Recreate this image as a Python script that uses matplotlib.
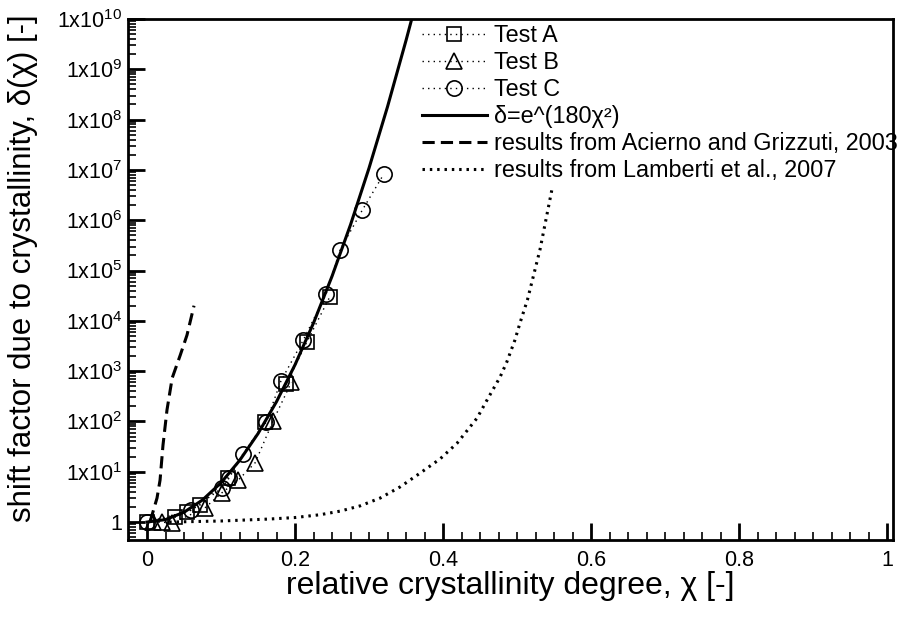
import numpy as np
import matplotlib
matplotlib.use('Agg')
import matplotlib.pyplot as plt
from matplotlib.ticker import FixedLocator, MultipleLocator, LogLocator, NullFormatter

plt.rcParams['font.family'] = ['Liberation Sans', 'DejaVu Sans']
plt.rcParams['mathtext.fontset'] = 'custom'
plt.rcParams['mathtext.rm'] = 'Liberation Sans'
plt.rcParams['mathtext.it'] = 'Liberation Sans'

# Data
test_a_x = [0.0, 0.038, 0.054, 0.072, 0.109, 0.159, 0.188, 0.216, 0.247]
test_a_y = [1.0, 1.25, 1.6, 2.2, 7.5, 97, 550, 3800, 3.0e4]

test_b_x = [0.008, 0.020, 0.034, 0.078, 0.101, 0.123, 0.146, 0.170, 0.195]
test_b_y = [1.0, 1.0, 0.95, 1.9, 3.8, 6.8, 15, 100, 600]

test_c_x = [0.0, 0.059, 0.101, 0.111, 0.130, 0.161, 0.181, 0.211, 0.242, 0.261, 0.291, 0.320]
test_c_y = [1.0, 1.7, 4.7, 7.5, 23, 97, 640, 4100, 3.4e4, 2.6e5, 1.6e6, 8.3e6]

# delta = e^(180 chi^2)
fit_x = [0, 0.025, 0.05, 0.075, 0.1, 0.125, 0.15, 0.175, 0.2, 0.225, 0.25,
         0.275, 0.3, 0.325, 0.35, 0.358]
fit_y = [1.0, 1.12, 1.57, 2.75, 6.05, 16.7, 57.4, 248, 1340, 9070, 7.7e4,
         8.15e5, 1.09e7, 1.81e8, 3.76e9, 1.04e10]

acierno_x = [0.004, 0.0135, 0.0176, 0.0216, 0.027, 0.034, 0.045, 0.054, 0.0635]
acierno_y = [1.0, 3.0, 6.8, 34, 170, 730, 2100, 5200, 2.0e4]

lamberti_x = [0.03, 0.1, 0.166, 0.2, 0.234, 0.261, 0.288, 0.315, 0.342, 0.369, 0.396,
              0.419, 0.446, 0.461, 0.477, 0.486, 0.497, 0.504, 0.514, 0.531, 0.547]
lamberti_y = [1.0, 1.05, 1.15, 1.23, 1.4, 1.65, 2.1, 3.0, 5.0, 9.4, 18,
              37, 117, 293, 760, 1500, 4100, 9100, 2.6e4, 2.6e5, 4.0e6]

labels = ['Test A', 'Test B', 'Test C', 'δ=e^(180χ²)',
          'results from Acierno and Grizzuti, 2003',
          'results from Lamberti et al., 2007']

fig = plt.figure(figsize=(9.03, 6.19), dpi=100)
ax = fig.add_axes([128/903, 79/619, 765/903, 521/619])

mk = dict(color='black', lw=1.0, ls=(0, (1, 3)), fillstyle='none',
          markeredgewidth=1.2, markeredgecolor='black')
ax.plot(test_a_x, test_a_y, marker='s', ms=10, label=labels[0], **mk)
ax.plot(test_b_x, test_b_y, marker='^', ms=11, label=labels[1], **mk)
ax.plot(test_c_x, test_c_y, marker='o', ms=11, label=labels[2], **mk)
ax.plot(fit_x, fit_y, color='black', lw=2.2, label=labels[3])
ax.plot(acierno_x, acierno_y, color='black', lw=2.2, ls=(0, (4, 2)), label=labels[4])
ax.plot(lamberti_x, lamberti_y, color='black', lw=2.2, ls=(0, (0.8, 1.6)), label=labels[5])

ax.set_yscale('log')
ax.set_xlim(-0.0257, 1.008)
ax.set_ylim(0.44, 1e10)

ax.xaxis.set_major_locator(FixedLocator([0, 0.2, 0.4, 0.6, 0.8, 1.0]))
ax.set_xticklabels(['0', '0.2', '0.4', '0.6', '0.8', '1'])
ax.xaxis.set_minor_locator(MultipleLocator(0.025))

yt = [10.0**k for k in range(11)]
ax.yaxis.set_major_locator(FixedLocator(yt))
ax.set_yticklabels(['1'] + [r'1x10$^{%d}$' % k for k in range(1, 11)])
ax.yaxis.set_minor_locator(LogLocator(base=10, subs=np.arange(2, 10), numticks=20))
ax.yaxis.set_minor_formatter(NullFormatter())

ax.tick_params(which='both', direction='in', top=False, right=False, colors='black')
ax.tick_params(which='major', length=12, width=2, labelsize=15.5)
ax.tick_params(which='minor', length=6, width=1.2)
ax.tick_params(axis='x', which='major', pad=7)
ax.tick_params(axis='y', which='major', pad=4)
for s in ax.spines.values():
    s.set_linewidth(2)

ax.set_xlabel('relative crystallinity degree, χ [-]', fontsize=23, labelpad=0)
ax.set_ylabel('shift factor due to crystallinity, δ(χ) [-]', fontsize=22.5)
ax.yaxis.set_label_coords(-0.117, 0.522)

ax.legend(loc='upper left', bbox_to_anchor=(0.384, 0.990), frameon=False,
          fontsize=16.8, handlelength=2.8, handletextpad=0.3, labelspacing=0.17,
          borderpad=0, borderaxespad=0)

fig.savefig('out.png', dpi=100)
